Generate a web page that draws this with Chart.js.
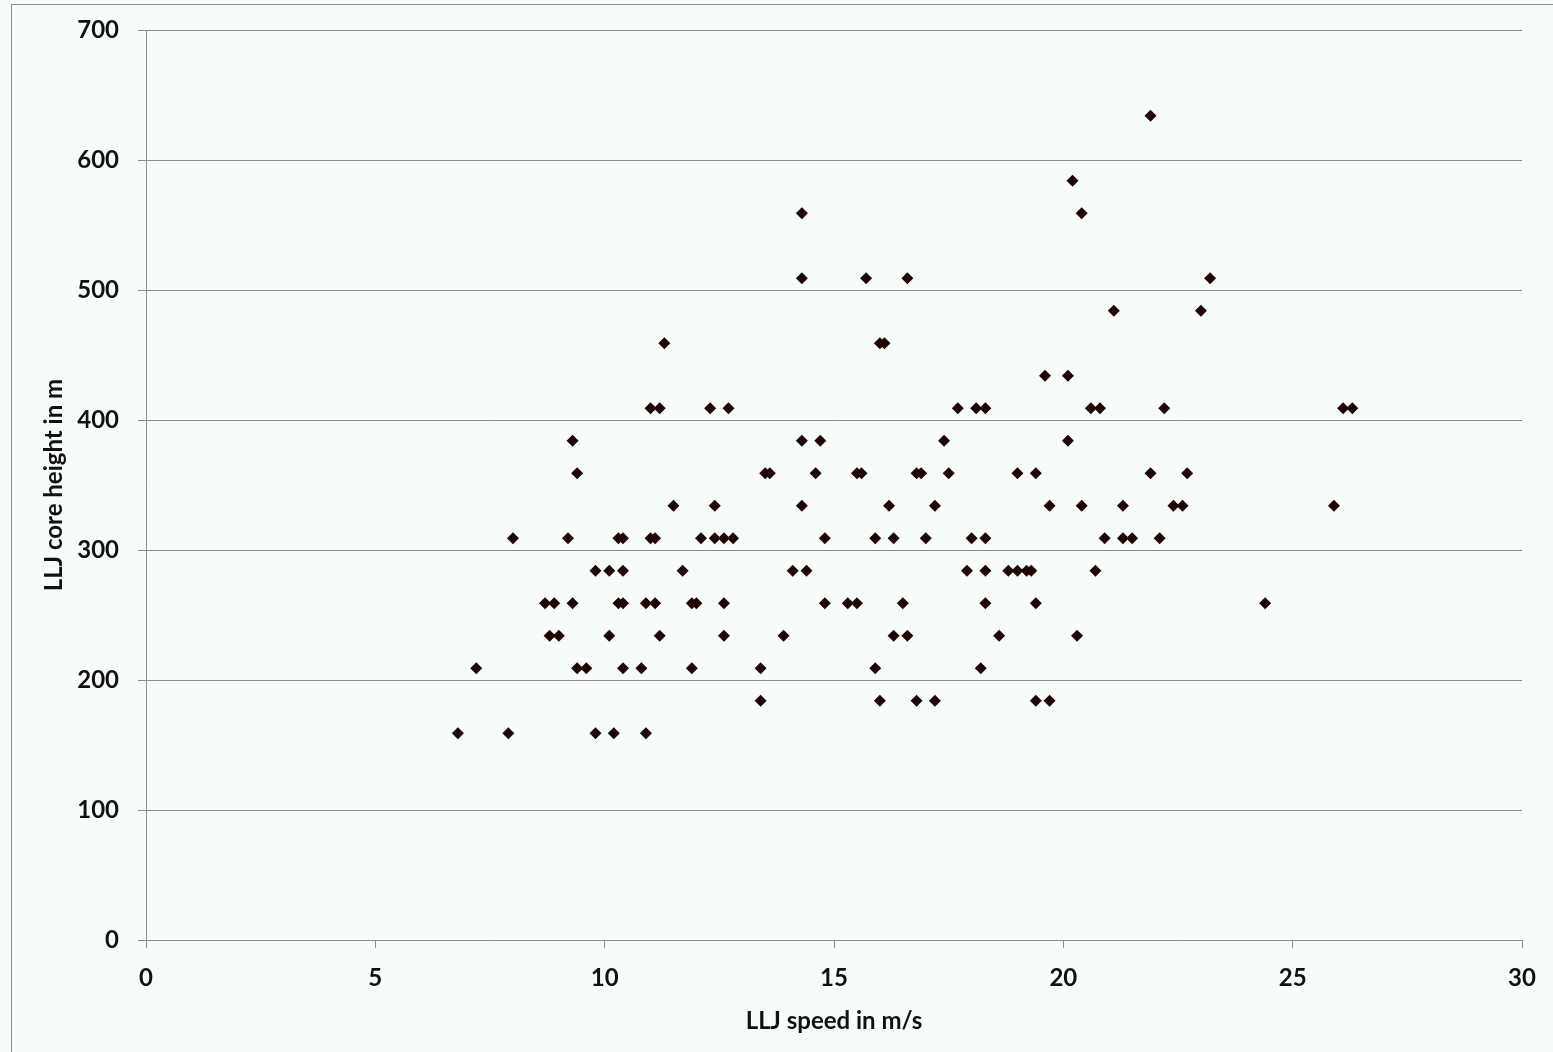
<!DOCTYPE html>
<html>
<head>
<meta charset="utf-8">
<title>LLJ core height vs LLJ speed</title>
<script src="https://cdn.jsdelivr.net/npm/chart.js@4.4.0/dist/chart.umd.min.js"></script>
<style>
  html, body { margin: 0; padding: 0; background: #f7fbfa; }
  #frame {
    position: absolute; left: 11px; top: 4px; width: 1560px; height: 1070px;
    border-left: 1px solid #8c8c8c; border-top: 1px solid #8c8c8c;
  }
  #wrap { position: absolute; left: 0; top: 0; width: 1553px; height: 1052px; }
</style>
</head>
<body>
<div id="frame"></div>
<div id="wrap"><canvas id="c" width="1553" height="1052"></canvas></div>
<script>
  // LLJ speed (m/s) and matching LLJ core height (m)
  var speed = [
    6.8, 7.9, 9.8, 10.2, 10.9,                                   // ~159 m
    13.4, 16.0, 16.8, 17.2, 19.4, 19.7,                          // ~184 m
    7.2, 9.4, 9.6, 10.4, 10.8, 11.9, 13.4, 15.9, 18.2,           // ~209 m
    8.8, 9.0, 10.1, 11.2, 12.6, 13.9, 16.3, 16.6, 18.6, 20.3,    // ~234 m
    8.7, 8.9, 9.3, 10.3, 10.4, 10.9, 11.1, 11.9, 12.0, 12.6,
    14.8, 15.3, 15.5, 16.5, 18.3, 19.4, 24.4,                    // ~259 m
    9.8, 10.1, 10.4, 11.7, 14.1, 14.4, 17.9, 18.3, 18.8, 19.0,
    19.2, 19.3, 20.7,                                            // ~284 m
    8.0, 9.2, 10.3, 10.4, 11.0, 11.1, 12.1, 12.4, 12.6, 12.8,
    14.8, 15.9, 16.3, 17.0, 18.0, 18.3, 20.9, 21.3, 21.5, 22.1,  // ~309 m
    11.5, 12.4, 14.3, 16.2, 17.2, 19.7, 20.4, 21.3, 22.4, 22.6,
    25.9,                                                        // ~334 m
    9.4, 13.5, 13.6, 14.6, 15.5, 15.6, 16.8, 16.9, 17.5, 19.0,
    19.4, 21.9, 22.7,                                            // ~359 m
    9.3, 14.3, 14.7, 17.4, 20.1,                                 // ~384 m
    11.0, 11.2, 12.3, 12.7, 17.7, 18.1, 18.3, 20.6, 20.8, 22.2,
    26.1, 26.3,                                                  // ~409 m
    19.6, 20.1,                                                  // ~434 m
    11.3, 16.0, 16.1,                                            // ~459 m
    21.1, 23.0,                                                  // ~484 m
    14.3, 15.7, 16.6, 23.2,                                      // ~509 m
    14.3, 20.4,                                                  // ~559 m
    20.2,                                                        // ~584 m
    21.9                                                         // ~634 m
  ];
  var height = [
    159, 159, 159, 159, 159,
    184, 184, 184, 184, 184, 184,
    209, 209, 209, 209, 209, 209, 209, 209, 209,
    234, 234, 234, 234, 234, 234, 234, 234, 234, 234,
    259, 259, 259, 259, 259, 259, 259, 259, 259, 259,
    259, 259, 259, 259, 259, 259, 259,
    284, 284, 284, 284, 284, 284, 284, 284, 284, 284,
    284, 284, 284,
    309, 309, 309, 309, 309, 309, 309, 309, 309, 309,
    309, 309, 309, 309, 309, 309, 309, 309, 309, 309,
    334, 334, 334, 334, 334, 334, 334, 334, 334, 334,
    334,
    359, 359, 359, 359, 359, 359, 359, 359, 359, 359,
    359, 359, 359,
    384, 384, 384, 384, 384,
    409, 409, 409, 409, 409, 409, 409, 409, 409, 409,
    409, 409,
    434, 434,
    459, 459, 459,
    484, 484,
    509, 509, 509, 509,
    559, 559,
    584,
    634
  ];

  var xTitle = "LLJ speed in m/s";
  var yTitle = "LLJ core height in m";

  var points = speed.map(function (s, i) { return { x: s, y: height[i] }; });

  var FONT = "Lato, 'Open Sans', sans-serif";
  var GRID = "#8a8a8a";

  new Chart(document.getElementById("c"), {
    type: "scatter",
    data: {
      datasets: [{
        label: "LLJ",
        data: points,
        pointStyle: "rectRot",
        pointRadius: 6,
        pointHoverRadius: 6,
        borderWidth: 0,
        backgroundColor: "#1c0606",
        borderColor: "#1c0606"
      }]
    },
    options: {
      responsive: false,
      animation: false,
      layout: { padding: { top: 30, right: 31, left: 0, bottom: 0 } },
      plugins: { legend: { display: false }, tooltip: { enabled: false } },
      scales: {
        x: {
          type: "linear", min: 0, max: 30,
          afterFit: function (s) {
            s.height = 112;
            s.paddingLeft = 0; s.paddingRight = 0; s.paddingTop = 0; s.paddingBottom = 0;
          },
          ticks: { stepSize: 5, color: "#111", padding: 16, font: { family: FONT, size: 24, weight: "bold" } },
          grid: { drawOnChartArea: false, drawTicks: true, tickLength: 8, color: GRID },
          border: { display: true, color: GRID, width: 1 },
          title: { display: true, text: xTitle, color: "#111", padding: { top: 0, bottom: 16 },
                   font: { family: FONT, size: 24, weight: "bold" } }
        },
        y: {
          type: "linear", min: 0, max: 700,
          afterFit: function (s) {
            s.width = 146;
            s.paddingLeft = 0; s.paddingRight = 0; s.paddingTop = 0; s.paddingBottom = 0;
          },
          ticks: { stepSize: 100, color: "#111", padding: 19, font: { family: FONT, size: 24, weight: "bold" } },
          grid: { drawOnChartArea: true, drawTicks: true, tickLength: 8, color: GRID },
          border: { display: true, color: GRID, width: 1 },
          title: { display: true, text: yTitle, color: "#111", padding: { top: 40, bottom: 0 },
                   font: { family: FONT, size: 24, weight: "bold" } }
        }
      }
    }
  });
</script>
</body>
</html>
